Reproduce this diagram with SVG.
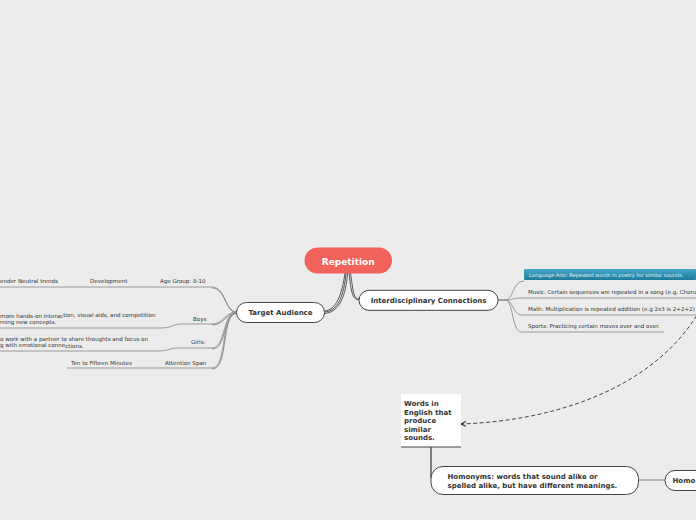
<svg xmlns="http://www.w3.org/2000/svg" width="696" height="520" viewBox="0 0 696 520">
<defs>
<linearGradient id="teal" x1="0" y1="0" x2="0" y2="1">
<stop offset="0" stop-color="#45a9c6"/>
<stop offset="1" stop-color="#1d7c9b"/>
</linearGradient>
<marker id="arr" viewBox="0 0 10 10" refX="9" refY="5" markerWidth="6" markerHeight="6" orient="auto" markerUnits="userSpaceOnUse">
<path d="M1 1 L9 5 L1 9" fill="none" stroke="#333" stroke-width="1.8"/>
</marker>
<style>
text{font-family:"DejaVu Sans","Liberation Sans",sans-serif;}
.sm{font-size:5.55px;fill:#333;}
.b7{font-size:7px;font-weight:bold;fill:#333;}
.pill{fill:#fff;stroke:#444;stroke-width:1;}
.ln{fill:none;stroke:#9a9a9a;stroke-width:1;}
.ln2{fill:none;stroke:#777;stroke-width:0.8;}
.main{fill:none;stroke:#555;stroke-width:1;}
</style>
</defs>
<rect width="696" height="520" fill="#ececec"/>

<g id="connectors">
<path class="main" d="M346 273 C344 295 338 312 324 312"/>
<path class="main" d="M347.5 273 C346 296 339 313 324 313.5"/>
<path class="main" d="M345 273 C342 294 336 311 324 311"/>
<path class="main" d="M349 273 C351 290 352 300 359 300"/>
<path class="main" d="M350.5 273 C353 289 353 299 359 299"/>
<path class="ln" d="M237 312 C224 312 226 287 212 287 L0 287"/>
<path class="ln2" d="M237 312.5 C225 312.5 226 288 212 288"/>
<path class="ln" d="M237 312 C224 312 224 324 212 324 L182 324 C172 324 172 328 162 328 L0 328"/>
<path class="ln2" d="M237 313 C225 313 225 325 212 325"/>
<path class="ln" d="M237 312 C222 312 226 348 212 348 L178 348 C170 348 168 351 158 351 L0 351"/>
<path class="ln2" d="M237 313 C223 313 227 349 212 349"/>
<path class="ln" d="M237 312 C220 312 228 368 212 368 L67 368"/>
<path class="ln2" d="M237 313 C221 313 229 369 212 369"/>
<path class="ln" d="M498 300 L505 300 C514 300 512 281 524 281"/>
<path class="ln" d="M498 300 L505 300 C514 300 512 298 522 298 L696 298"/>
<path class="ln" d="M498 300 L505 300 C514 300 512 315 522 315 L696 315"/>
<path class="ln" d="M498 300 L505 300 C514 300 511 332 522 332 L664 332"/>
<path d="M700 310 C660 380 570 420 461 424" fill="none" stroke="#444" stroke-width="1" stroke-dasharray="4 2.5" marker-end="url(#arr)"/>
<path d="M431 447 L431 478" fill="none" stroke="#444" stroke-width="1.3"/>
<path d="M639 480 L665 480" fill="none" stroke="#aaa" stroke-width="1.5"/>
</g>

<g id="root">
<rect x="304.5" y="247.5" width="87.5" height="26" rx="13" fill="#f0625a"/>
<text x="348.2" y="264.8" text-anchor="middle" font-size="9" font-weight="bold" fill="#fff">Repetition</text>
</g>

<g id="target-audience">
<rect class="pill" x="236.5" y="302.5" width="88" height="20" rx="10"/>
<text class="b7" x="280.5" y="315.3" text-anchor="middle">Target Audience</text>
</g>

<g id="interdisciplinary">
<rect class="pill" x="359" y="290.3" width="139" height="20" rx="10"/>
<text class="b7" x="428.5" y="302.8" text-anchor="middle">Interdisciplinary Connections</text>
</g>

<g id="age-group">
<text class="sm" x="160" y="283">Age Group: 8-10</text>
</g>
<g id="development">
<text class="sm" x="90" y="283">Development</text>
</g>
<g id="gender-neutral">
<text class="sm" x="0" y="283">ender Neutral trends</text>
</g>
<g id="boys">
<text class="sm" x="193" y="321">Boys</text>
</g>
<g id="boys-detail">
<text class="sm" x="0" y="318">more hands-on interac<tspan dy="-0.7">tion, visual aids, and competition</tspan></text>
<text class="sm" x="0" y="324">rning new concepts.</text>
</g>
<g id="girls">
<text class="sm" x="191" y="344">Girls:</text>
</g>
<g id="girls-detail">
<text class="sm" x="0" y="341">o work with a partner to share thoughts and focus on</text>
<text class="sm" x="0" y="347">g with emotional conne<tspan dy="0.7">ctions.</tspan></text>
</g>
<g id="attention-span">
<text class="sm" x="165" y="365">Attention Span</text>
</g>
<g id="ten-fifteen">
<text class="sm" x="71" y="365">Ten to Fifteen Minutes</text>
</g>

<g id="language-arts">
<rect x="524" y="269" width="172" height="11" rx="1" fill="url(#teal)"/>
<text x="529" y="276.5" font-size="5.1" style="fill:#e3f3f8">Language Arts: Repeated words in poetry for similar sounds.</text>
</g>
<g id="music">
<text class="sm" x="528" y="294">Music: Certain sequences are repeated in a song (e.g. Choru</text>
</g>
<g id="math">
<text class="sm" x="528" y="311">Math: Multiplication is repeated addition (e.g 2x3 is 2+2+2)</text>
</g>
<g id="sports">
<text class="sm" x="528" y="328">Sports: Practicing certain moves over and over.</text>
</g>

<g id="words-english">
<rect x="401" y="394" width="60" height="53" fill="#fff"/>
<line x1="401" y1="447" x2="461" y2="447" stroke="#444" stroke-width="1"/>
<text class="b7" x="404" y="406">Words in</text>
<text class="b7" x="404" y="414.5">English that</text>
<text class="b7" x="404" y="423">produce</text>
<text class="b7" x="404" y="431.5">similar</text>
<text class="b7" x="404" y="440">sounds.</text>
</g>

<g id="homonyms">
<rect class="pill" x="431" y="466.5" width="207.5" height="28" rx="12"/>
<text class="b7" x="447.5" y="479">Homonyms: words that sound alike or</text>
<text class="b7" x="447.5" y="487.8">spelled alike, but have different meanings.</text>
</g>

<g id="homo">
<rect class="pill" x="665" y="470.5" width="60" height="20" rx="10"/>
<text class="b7" x="672.5" y="483">Homo</text>
</g>
</svg>
